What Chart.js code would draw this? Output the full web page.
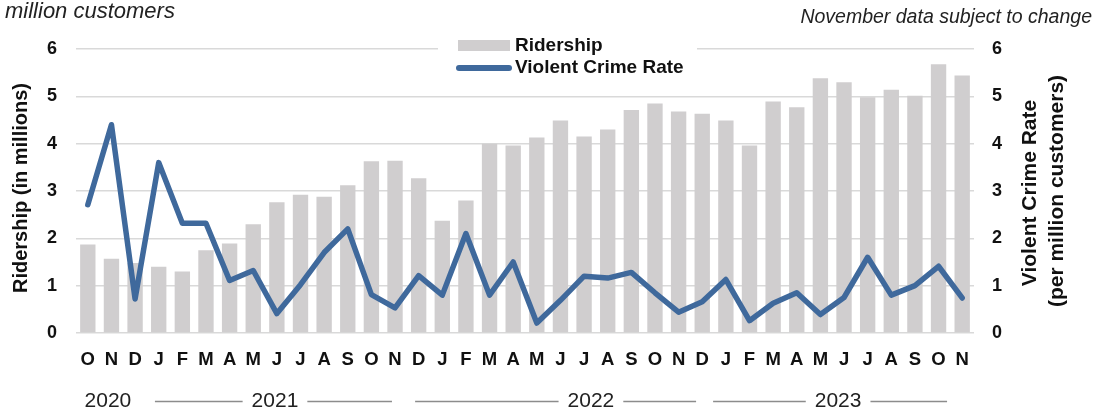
<!DOCTYPE html>
<html>
<head>
<meta charset="utf-8">
<script src="https://cdn.jsdelivr.net/npm/chart.js@4/dist/chart.umd.min.js"></script>
<style>
  html, body { margin: 0; padding: 0; background: #ffffff; }
  #wrap { width: 1108px; height: 414px; position: relative; }
</style>
</head>
<body>
<div id="wrap"><canvas id="chart" width="1108" height="414"></canvas></div>
<script>
// Monthly categories, Oct 2020 – Nov 2023
const monthLabels = ['O','N','D','J','F','M','A','M','J','J','A','S','O','N','D','J','F','M','A','M','J','J','A','S','O','N','D','J','F','M','A','M','J','J','A','S','O','N'];

// Ridership, millions of customers per month
const ridership = [1.87,1.57,1.48,1.40,1.30,1.75,1.89,2.30,2.76,2.92,2.88,3.12,3.63,3.64,3.27,2.37,2.80,4.00,3.96,4.13,4.49,4.15,4.30,4.71,4.85,4.68,4.63,4.49,3.96,4.89,4.77,5.38,5.30,4.98,5.14,5.01,5.68,5.44];

// Violent crimes per million customers
const crimeRate = [2.71,4.40,0.72,3.60,2.32,2.32,1.11,1.32,0.41,1.02,1.70,2.20,0.81,0.53,1.21,0.80,2.10,0.80,1.50,0.21,0.69,1.20,1.16,1.28,0.85,0.44,0.66,1.13,0.26,0.63,0.85,0.39,0.75,1.60,0.80,1.00,1.41,0.74];

// Year captions under the month letters
const yearLabels = ['2020','2021','2022','2023'];

const seriesNames = ['Ridership', 'Violent Crime Rate'];
const leftTitle = 'Ridership (in millions)';
const rightTitle = ['Violent Crime Rate', '(per million customers)'];
const unitNote = 'million customers';
const footNote = 'November data subject to change';

const FONT = "'Liberation Sans', Arial, Helvetica, sans-serif";
const BAR_COLOR = '#D0CECF';
const LINE_COLOR = '#3F699C';
const TEXT_COLOR = '#111111';

// Where each year caption sits along the category axis (fractional category index)
const yearLayout = [
  { at: 0.85 },
  { at: 7.92, from: 2.84, to: 12.87 },
  { at: 21.29, from: 13.85, to: 25.74 },
  { at: 31.75, from: 26.46, to: 36.36 }
];

const decorations = {
  id: 'decorations',
  beforeDatasetsDraw(chart) {
    // white panel behind the legend interrupts the top gridline
    const ctx = chart.ctx;
    ctx.save();
    ctx.fillStyle = '#ffffff';
    ctx.fillRect(438, 34, 259, 46);
    ctx.restore();
  },
  afterDraw(chart) {
    const ctx = chart.ctx;
    const area = chart.chartArea;
    const xs = chart.scales.x;
    const midY = (area.top + area.bottom) / 2;
    ctx.save();
    ctx.fillStyle = TEXT_COLOR;

    // left axis title
    ctx.save();
    ctx.translate(21, midY - 3);
    ctx.rotate(-Math.PI / 2);
    ctx.textAlign = 'center';
    ctx.textBaseline = 'middle';
    ctx.font = 'bold 20px ' + FONT;
    ctx.fillText(leftTitle, 0, 0);
    ctx.restore();

    // right axis title, two lines read bottom to top
    ctx.font = 'bold 21px ' + FONT;
    [[1030, midY + 2], [1057, midY]].forEach((p, i) => {
      ctx.save();
      ctx.translate(p[0], p[1]);
      ctx.rotate(-Math.PI / 2);
      ctx.textAlign = 'center';
      ctx.textBaseline = 'middle';
      ctx.fillText(rightTitle[i], 0, 0);
      ctx.restore();
    });

    // notes above the plot
    ctx.textBaseline = 'alphabetic';
    ctx.fillStyle = '#222222';
    ctx.font = 'italic 22px ' + FONT;
    ctx.textAlign = 'left';
    ctx.fillText(unitNote, 5, 18);
    ctx.font = 'italic 19.5px ' + FONT;
    ctx.textAlign = 'right';
    ctx.fillText(footNote, 1092, 23);

    // legend
    ctx.fillStyle = BAR_COLOR;
    ctx.fillRect(458, 40, 52, 11);
    ctx.strokeStyle = LINE_COLOR;
    ctx.lineWidth = 6;
    ctx.lineCap = 'round';
    ctx.beginPath();
    ctx.moveTo(459, 68);
    ctx.lineTo(509, 68);
    ctx.stroke();
    ctx.fillStyle = TEXT_COLOR;
    ctx.font = 'bold 19px ' + FONT;
    ctx.textAlign = 'left';
    ctx.textBaseline = 'middle';
    ctx.fillText(seriesNames[0], 515, 46);
    ctx.fillText(seriesNames[1], 515, 68);

    // year captions with rules
    const step = (xs.getPixelForValue(1) - xs.getPixelForValue(0));
    const px = v => xs.getPixelForValue(0) + v * step;
    const yRow = 401;
    ctx.font = '21px ' + FONT;
    ctx.textAlign = 'center';
    ctx.textBaseline = 'middle';
    ctx.strokeStyle = '#8C8C8C';
    ctx.lineWidth = 1.3;
    ctx.lineCap = 'butt';
    yearLabels.forEach((label, i) => {
      const lay = yearLayout[i];
      const cx = px(lay.at);
      ctx.fillStyle = '#222222';
      ctx.fillText(label, cx, yRow);
      if (lay.from !== undefined) {
        const half = ctx.measureText(label).width / 2;
        ctx.beginPath();
        ctx.moveTo(px(lay.from), yRow + 0.5);
        ctx.lineTo(cx - half - 9, yRow + 0.5);
        ctx.moveTo(cx + half + 9, yRow + 0.5);
        ctx.lineTo(px(lay.to), yRow + 0.5);
        ctx.stroke();
      }
    });
    ctx.restore();
  }
};

new Chart(document.getElementById('chart'), {
  data: {
    labels: monthLabels,
    datasets: [
      {
        type: 'line',
        label: seriesNames[1],
        data: crimeRate,
        yAxisID: 'y2',
        borderColor: LINE_COLOR,
        backgroundColor: LINE_COLOR,
        borderWidth: 5.5,
        borderJoinStyle: 'round',
        borderCapStyle: 'round',
        tension: 0,
        pointRadius: 0,
        pointHoverRadius: 0,
        fill: false,
        order: 0
      },
      {
        type: 'bar',
        label: seriesNames[0],
        data: ridership,
        yAxisID: 'y',
        backgroundColor: BAR_COLOR,
        borderWidth: 0,
        categoryPercentage: 1,
        barPercentage: 0.65,
        order: 1
      }
    ]
  },
  options: {
    responsive: false,
    devicePixelRatio: 1,
    animation: false,
    layout: { padding: { top: 49, left: 0, right: 0, bottom: 0 } },
    plugins: {
      legend: { display: false },
      tooltip: { enabled: false },
      title: { display: false }
    },
    scales: {
      x: {
        type: 'category',
        offset: true,
        grid: { display: false, drawTicks: false },
        border: { display: false },
        ticks: {
          autoSkip: false,
          maxRotation: 0,
          padding: 16,
          color: TEXT_COLOR,
          font: { family: FONT, size: 18.5, weight: 'bold' }
        },
        afterFit(s) { s.height = 81; }
      },
      y: {
        position: 'left',
        min: 0,
        max: 6,
        grid: { color: '#D9D9D9', lineWidth: 1.5, drawTicks: false },
        border: { display: false },
        ticks: {
          stepSize: 1,
          padding: 19,
          color: TEXT_COLOR,
          font: { family: FONT, size: 18, weight: 'bold' }
        },
        afterFit(s) { s.width = 76; }
      },
      y2: {
        position: 'right',
        min: 0,
        max: 6,
        grid: { display: false, drawTicks: false },
        border: { display: false },
        ticks: {
          stepSize: 1,
          padding: 18,
          color: TEXT_COLOR,
          font: { family: FONT, size: 18, weight: 'bold' }
        },
        afterFit(s) { s.width = 134; }
      }
    }
  },
  plugins: [decorations]
});
</script>
</body>
</html>
